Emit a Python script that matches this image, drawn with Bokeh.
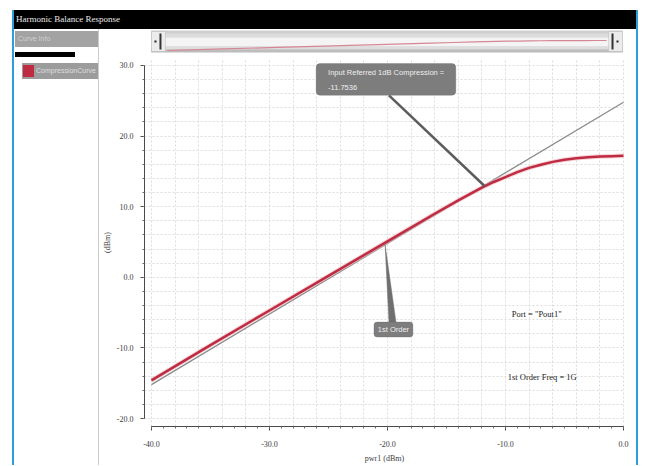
import numpy as np
from bokeh.plotting import figure
from bokeh.models import (Div, Range1d, SingleIntervalTicker, PrintfTickFormatter,
                          BoxAnnotation, Label, Spacer)
from bokeh.layouts import row, column
from bokeh.embed import file_html
from bokeh.resources import INLINE

# ---------------- data ----------------
pin_dbm = [-40, -35, -30, -25, -20, -16, -14, -12, -11, -10, -9, -8, -7, -6, -5, -4, -3, -2, -1, 0]
pout_dbm = [-14.6, -9.6, -4.7, 0.2, 5.1, 9.0, 10.9, 12.7, 13.5, 14.2, 14.9, 15.5, 15.95,
            16.35, 16.65, 16.85, 17.0, 17.1, 17.15, 17.2]
first_order_pin = [-40, 0]
first_order_pout = [-15.2, 24.8]
p1db_input = -11.75
p1db_text = "-11.7536"
first_order_marker_x = -20.2
chart_title = "Harmonic Balance Response"
curve_name = "CompressionCurve"
x_title = "pwr1 (dBm)"
y_title = "(dBm)"

BLUE = "#2b9fd9"
RED = "#bf2c42"

# helpers: reference-pixel positions -> data units for annotation placement
def fx(px):
    return -40 + (px - 150) / 11.826

def fy(py):
    return (278 - py) / 7.099

# ---------------- main chart ----------------
p = figure(width=537, height=411, output_backend="svg", toolbar_location=None,
           x_range=Range1d(-40.59, 0.085), y_range=Range1d(-21.13, 30.99),
           min_border_left=44, min_border_right=12, min_border_top=4, min_border_bottom=37,
           margin=0)
p.outline_line_color = None
p.background_fill_color = "white"
p.border_fill_color = "white"

for ax, interval, nminor, bounds in ((p.xaxis, 10, 10, (-40, 0)), (p.yaxis, 10, 5, (-20, 30))):
    ax.ticker = SingleIntervalTicker(interval=interval, num_minor_ticks=nminor)
    ax.formatter = PrintfTickFormatter(format="%.1f")
    ax.bounds = bounds
    ax.axis_line_color = "#4a4a4a"
    ax.major_tick_line_color = "#4a4a4a"
    ax.minor_tick_line_color = "#6a6a6a"
    ax.major_tick_in = 0
    ax.major_tick_out = 4
    ax.minor_tick_in = 0
    ax.minor_tick_out = 2
    ax.major_label_text_font = "Liberation Serif"
    ax.major_label_text_font_size = "8px"
    ax.major_label_text_color = "#3c3c3c"
    ax.axis_label_text_font = "Liberation Serif"
    ax.axis_label_text_font_size = "8px"
    ax.axis_label_text_font_style = "normal"
    ax.axis_label_text_color = "#3c3c3c"

p.xaxis.axis_label = x_title
p.yaxis.axis_label = y_title
p.xaxis.major_label_standoff = 10
p.xaxis.axis_label_standoff = 4
p.yaxis.major_label_standoff = 7
p.yaxis.axis_label_standoff = 2

p.xgrid.ticker = SingleIntervalTicker(interval=2)
p.ygrid.ticker = SingleIntervalTicker(interval=2)
for g in (p.xgrid, p.ygrid):
    g.grid_line_color = "#dcdcdc"
    g.grid_line_dash = "2 2"
    g.grid_line_width = 1

# curves
p.line(first_order_pin, first_order_pout, line_color="#8a8a8a", line_width=1.3)
p.line(pin_dbm, pout_dbm, line_color="#f0b8c0", line_width=4.5, line_alpha=0.6)
p.line(pin_dbm, pout_dbm, line_color=RED, line_width=2.5)

# callout 1: input referred 1 dB compression
p1db_y = float(np.interp(p1db_input, pin_dbm, pout_dbm))
b1 = dict(left=fx(315), right=fx(455), top=fy(63), bottom=fy(95))
p.segment(x0=[fx(388)], y0=[b1["bottom"]], x1=[p1db_input], y1=[p1db_y],
          line_color="#5c5c5c", line_width=2.5)
p.add_layout(BoxAnnotation(left=b1["left"], right=b1["right"], top=b1["top"], bottom=b1["bottom"],
                           fill_color="#7d7d7d", fill_alpha=1.0, line_color="#666666",
                           line_width=1, border_radius=4))
p.add_layout(Label(x=fx(327), y=fy(72), text="Input Referred 1dB Compression =",
                   text_font="Liberation Sans", text_font_size="7.5px", text_color="#eeeeee",
                   text_baseline="middle", text_align="left"))
p.add_layout(Label(x=fx(327), y=fy(87), text=p1db_text,
                   text_font="Liberation Sans", text_font_size="7.5px", text_color="#eeeeee",
                   text_baseline="middle", text_align="left"))

# callout 2: 1st order line
fo_y = float(np.interp(first_order_marker_x, first_order_pin, first_order_pout))
b2 = dict(left=fx(373), right=fx(412), top=fy(323), bottom=fy(338))
p.patch([first_order_marker_x, fx(388), fx(395)], [fo_y, b2["top"], b2["top"]],
        fill_color="#6f6f6f", line_color="#6f6f6f", line_width=0.5)
p.add_layout(BoxAnnotation(left=b2["left"], right=b2["right"], top=b2["top"], bottom=b2["bottom"],
                           fill_color="#7d7d7d", fill_alpha=1.0, line_color="#666666",
                           line_width=1, border_radius=3))
p.add_layout(Label(x=(b2["left"] + b2["right"]) / 2, y=(b2["top"] + b2["bottom"]) / 2,
                   text="1st Order", text_font="Liberation Sans", text_font_size="7.5px",
                   text_color="#eeeeee", text_baseline="middle", text_align="center"))

# info texts
p.add_layout(Label(x=fx(511), y=fy(315), text='Port = "Pout1"', text_font="Liberation Serif",
                   text_font_size="8.5px", text_color="#222222", text_baseline="middle"))
p.add_layout(Label(x=fx(507), y=fy(378), text="1st Order Freq = 1G", text_font="Liberation Serif",
                   text_font_size="8.5px", text_color="#222222", text_baseline="middle"))

# ---------------- overview strip (same side borders as the main chart) ----------------
OX0, OX1 = -42.0909, 1.6364
OY0, OY1 = -20.96, 48.99
ov = figure(width=537, height=25, output_backend="svg", toolbar_location=None,
            x_range=Range1d(OX0, OX1), y_range=Range1d(OY0, OY1),
            x_axis_type=None, y_axis_type=None,
            min_border_left=44, min_border_right=12, min_border_top=1, min_border_bottom=2,
            margin=0)
ov.grid.visible = False
ov.outline_line_color = None
ov.background_fill_color = "white"
ov.border_fill_color = "white"

def ox(px):
    return OX0 + (px - 143) / 11.0

def oy(py):
    return OY1 - (py - 30) / 0.3145

ov.add_layout(BoxAnnotation(left=ox(150), right=ox(622), top=oy(30), bottom=oy(52),
                            fill_color="#cfcfcf", fill_alpha=1.0, line_color=None, level="underlay"))
for top_px, bot_px, col in ((33, 37, "#dcdcdc"), (37, 46, "#f4f4f4"), (46, 49, "#dedede"), (49, 52, "#bdbdbd")):
    ov.add_layout(BoxAnnotation(left=ox(150), right=ox(622), top=oy(top_px), bottom=oy(bot_px),
                                fill_color=col, fill_alpha=1.0, line_color=None, level="underlay"))
ov.add_layout(BoxAnnotation(left=ox(150), right=ox(622), top=oy(30), bottom=oy(52),
                            fill_alpha=0.0, line_color="#a8a8a8", line_width=1, level="underlay"))
ov.line(pin_dbm, pout_dbm, line_color="#d68794", line_width=1.2)
for l, r, bl, br, dl, dr in ((150, 164, 158, 160, 153, 155), (608, 622, 611, 613, 616, 618)):
    ov.add_layout(BoxAnnotation(left=ox(l), right=ox(r), top=oy(31), bottom=oy(51),
                                fill_color="#ececec", fill_alpha=1.0, line_color="#9a9a9a"))
    ov.add_layout(BoxAnnotation(left=ox(bl), right=ox(br), top=oy(33), bottom=oy(49),
                                fill_color="#333333", fill_alpha=1.0, line_color=None))
    ov.add_layout(BoxAnnotation(left=ox(dl), right=ox(dr), top=oy(40), bottom=oy(42),
                                fill_color="#222222", fill_alpha=1.0, line_color=None))

# ---------------- chrome ----------------
title_div = Div(width=622, height=19, margin=0,
                text=('<div style="position:relative;width:622px;height:19px;background:#000;">'
                      '<span style="position:absolute;left:2px;top:0;line-height:19px;'
                      'font-family:\'Liberation Serif\';font-size:9px;color:#e8e8e8;white-space:nowrap;">'
                      + chart_title + '</span></div>'))

panel_html = (
    '<div style="position:relative;width:85px;height:436px;background:#fff;">'
    '<div style="position:absolute;left:1px;top:2px;width:83px;height:16px;background:#a3a3a3;"></div>'
    '<span style="position:absolute;left:4px;top:2px;line-height:16px;font-family:\'Liberation Sans\';'
    'font-size:7px;color:#cfcfcf;white-space:nowrap;">Curve Info</span>'
    '<div style="position:absolute;left:1px;top:23px;width:60px;height:5px;background:#000;"></div>'
    '<div style="position:absolute;left:8px;top:34px;width:76px;height:16px;background:#9c9c9c;"></div>'
    '<div style="position:absolute;left:9px;top:36px;width:11px;height:12px;background:' + RED + ';"></div>'
    '<span style="position:absolute;left:22px;top:34px;line-height:16px;font-family:\'Liberation Sans\';'
    'font-size:7px;color:#dedede;white-space:nowrap;overflow:hidden;width:62px;">' + curve_name + '</span>'
    '<div style="position:absolute;left:84px;top:0;width:1px;height:436px;background:#cdcdcd;"></div>'
    '</div>')
panel_div = Div(width=85, height=436, margin=0, text=panel_html)

def strip(w, h):
    return Div(width=w, height=h, margin=0,
               text='<div style="width:%dpx;height:%dpx;background:%s;"></div>' % (w, h, BLUE))

inner = column(title_div, row(panel_div, column(ov, p, spacing=0), spacing=0), spacing=0)
framed = column(strip(626, 2), row(strip(2, 455), inner, strip(2, 455), spacing=0), spacing=0)
root = column(Spacer(width=638, height=8, margin=0),
              row(Spacer(width=12, height=457, margin=0), framed, spacing=0), spacing=0)

open("out.html", "w").write(file_html(root, INLINE))
